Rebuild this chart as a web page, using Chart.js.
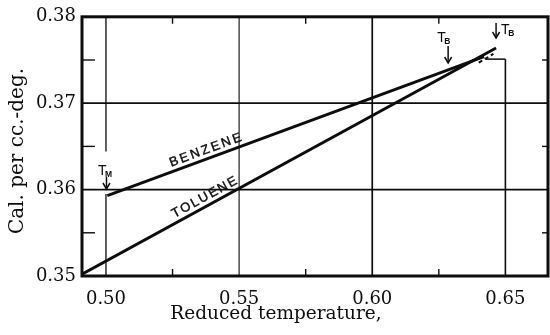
<!DOCTYPE html>
<html><head><meta charset="utf-8">
<script src="https://cdn.jsdelivr.net/npm/chart.js@4/dist/chart.umd.min.js"></script>
<style>html,body{margin:0;padding:0;background:#fff}#wrap{width:550px;height:335px;position:relative}</style>
</head><body><div id="wrap"><canvas id="c"></canvas></div>
<script>
// ---- data ----
const xTickValues = [0.50, 0.55, 0.60, 0.65];
const yTickValues = [0.35, 0.36, 0.37, 0.38];
const xMinorTicks = [0.525, 0.575, 0.625];
const yMinorTicks = [0.355, 0.365, 0.375];
const benzeneX = [0.5005, 0.642];
const benzeneY = [0.3593, 0.3754];
const tolueneX = [0.491, 0.6465];
const tolueneY = [0.3502, 0.3764];
const benzeneDashX = [0.6400, 0.6455];
const benzeneDashY = [0.3747, 0.3757];
const tmX = 0.50;          // melting point marker
const tbBenzeneX = 0.6285; // boiling point benzene
const tbTolueneX = 0.6465; // boiling point toluene
const bracketY = 0.3751;
const bracketX = [0.6427, 0.65];

const INK = '#0d0d0d';
const SERIF = '"DejaVu Serif", "Liberation Serif", serif';
const SANS = '"Liberation Sans", Arial, sans-serif';

const pts = (xs, ys) => xs.map((x, i) => ({x, y: ys[i]}));

const decor = {
  id: 'decor',
  beforeDatasetsDraw(chart) {
    const {ctx, chartArea: a, scales: {x, y}} = chart;
    const X = v => x.getPixelForValue(v), Y = v => y.getPixelForValue(v);
    ctx.save();
    ctx.strokeStyle = INK;
    const seg = (x1, y1, x2, y2, w) => { ctx.lineWidth = w; ctx.beginPath(); ctx.moveTo(x1, y1); ctx.lineTo(x2, y2); ctx.stroke(); };
    // horizontal grid
    [0.36, 0.37].forEach(v => seg(a.left, Y(v), a.right, Y(v), 1.8));
    // vertical grid
    seg(X(0.50), Y(0.35), X(0.50), Y(0.3595), 1.3);
    seg(X(0.50), Y(0.3644), X(0.50), a.top, 1.3);
    seg(X(0.55), a.top, X(0.55), a.bottom, 1.1);
    seg(X(0.60), a.top, X(0.60), a.bottom, 1.7);
    seg(X(0.65), a.bottom, X(0.65), Y(bracketY), 1.6);
    seg(X(bracketX[0]), Y(bracketY), X(bracketX[1]), Y(bracketY), 1.5);
    // minor ticks
    xMinorTicks.forEach(v => { seg(X(v), a.bottom, X(v), a.bottom - 7, 1.4); seg(X(v), a.top, X(v), a.top + 7, 1.4); });
    yMinorTicks.forEach(v => { seg(a.left, Y(v), a.left + 13, Y(v), 1.4); seg(a.right, Y(v), a.right - 6, Y(v), 1.4); });
    // frame
    ctx.lineWidth = 3;
    ctx.strokeRect(a.left, a.top, a.right - a.left, a.bottom - a.top);
    ctx.restore();
  },
  afterDatasetsDraw(chart) {
    const {ctx, scales: {x, y}} = chart;
    const X = v => x.getPixelForValue(v), Y = v => y.getPixelForValue(v);
    ctx.save();
    ctx.strokeStyle = INK; ctx.fillStyle = INK;
    // dashed extension
    ctx.setLineDash([4, 3]); ctx.lineWidth = 2;
    ctx.beginPath(); ctx.moveTo(X(benzeneDashX[0]), Y(benzeneDashY[0])); ctx.lineTo(X(benzeneDashX[1]), Y(benzeneDashY[1])); ctx.stroke();
    ctx.setLineDash([]);
    const arrow = (px, y1, y2) => {
      ctx.lineWidth = 1.5;
      ctx.beginPath(); ctx.moveTo(px, y1); ctx.lineTo(px, y2); ctx.stroke();
      ctx.beginPath(); ctx.moveTo(px - 3.5, y2 - 6); ctx.lineTo(px, y2); ctx.lineTo(px + 3.5, y2 - 6); ctx.stroke();
    };
    const tLabel = (px, py, sub) => {
      ctx.textBaseline = 'alphabetic'; ctx.textAlign = 'left';
      ctx.font = '14px ' + SANS; ctx.fillText('T', px, py);
      const w = ctx.measureText('T').width;
      ctx.font = 'bold 8.5px ' + SANS; ctx.fillText(sub, px + w - 1.5, py + 2);
    };
    // T_M
    tLabel(X(tmX) - 8, 175, 'M');
    arrow(X(tmX) + 0.5, 177, 189);
    // T_B benzene
    tLabel(X(tbBenzeneX) - 11, 42, 'B');
    arrow(X(tbBenzeneX), 46, 63);
    // T_B toluene
    arrow(X(tbTolueneX), 23, 38);
    tLabel(X(tbTolueneX) + 5, 34, 'B');
    // rotated series labels
    const along = (text, xs, ys, cx, off, spacing) => {
      const ang = Math.atan2(Y(ys[1]) - Y(ys[0]), X(xs[1]) - X(xs[0]));
      const t = (cx - xs[0]) / (xs[1] - xs[0]);
      const cy = ys[0] + t * (ys[1] - ys[0]);
      ctx.save();
      ctx.translate(X(cx), Y(cy)); ctx.rotate(ang);
      ctx.font = '13px ' + SANS; ctx.textBaseline = 'alphabetic'; ctx.textAlign = 'left';
      ctx.lineWidth = 0.4; ctx.strokeStyle = INK;
      const widths = [...text].map(c => ctx.measureText(c).width);
      const total = widths.reduce((s, w) => s + w, 0) + spacing * (text.length - 1);
      let px = -total / 2;
      [...text].forEach((c, i) => { ctx.fillText(c, px, -off); ctx.strokeText(c, px, -off); px += widths[i] + spacing; });
      ctx.restore();
    };
    along('BENZENE', benzeneX, benzeneY, 0.5385, 5, 2.4);
    along('TOLUENE', tolueneX, tolueneY, 0.5385, 5, 1.8);
    // axis titles
    ctx.fillStyle = INK;
    ctx.textAlign = 'center'; ctx.textBaseline = 'alphabetic';
    ctx.font = '18.5px ' + SERIF;
    ctx.fillText('Reduced temperature,', 276, 319);
    ctx.save(); ctx.translate(23, 151); ctx.rotate(-Math.PI / 2);
    ctx.font = '20px ' + SERIF;
    ctx.fillText('Cal. per cc.-deg.', 0, 0);
    ctx.restore();
    ctx.restore();
  }
};

const lineDs = (label, data, w) => ({label, data, showLine: true, borderColor: INK, backgroundColor: INK, borderWidth: w, pointRadius: 0, borderCapStyle: 'butt', tension: 0});

new Chart(document.getElementById('c'), {
  type: 'scatter',
  data: {datasets: [
    lineDs('Benzene', pts(benzeneX, benzeneY), 2.9),
    lineDs('Toluene', pts(tolueneX, tolueneY), 2.9)
  ]},
  options: {
    responsive: true, maintainAspectRatio: false, animation: false,
    layout: {padding: {top: 14, right: 2, left: 0, bottom: 0}},
    plugins: {legend: {display: false}, tooltip: {enabled: false}},
    scales: {
      x: {
        type: 'linear', min: 0.491, max: 0.666,
        afterBuildTicks: s => { s.ticks = xTickValues.map(v => ({value: v})); },
        afterFit: s => { s.height = 59; },
        grid: {display: false, drawTicks: false},
        border: {display: false},
        ticks: {color: INK, padding: 13, font: {family: SERIF, size: 18}, maxRotation: 0, autoSkip: false, callback: v => v.toFixed(2)}
      },
      y: {
        type: 'linear', min: 0.35, max: 0.38,
        afterBuildTicks: s => { s.ticks = yTickValues.map(v => ({value: v})); },
        afterFit: s => { s.width = 82; },
        grid: {display: false, drawTicks: false},
        border: {display: false},
        ticks: {color: INK, padding: 6, font: {family: SERIF, size: 18}, autoSkip: false, callback: v => v.toFixed(2)}
      }
    }
  },
  plugins: [decor]
});
</script>
</body></html>
